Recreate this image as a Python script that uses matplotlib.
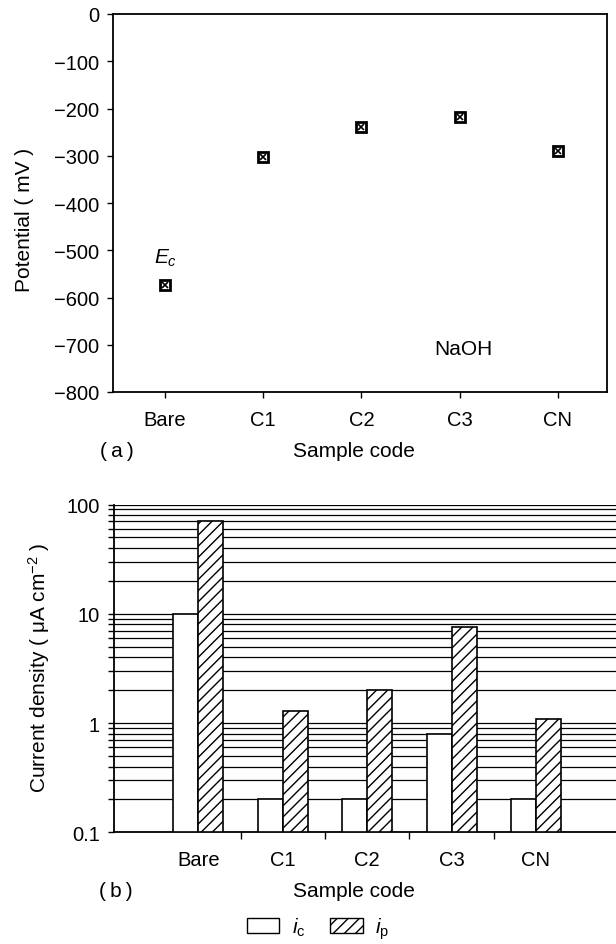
import matplotlib
matplotlib.use("Agg")
import matplotlib.pyplot as plt
from matplotlib.patches import Patch
from matplotlib.ticker import FixedLocator, LogLocator, NullFormatter, FuncFormatter
import numpy as np

plt.rcParams['font.family'] = ['Liberation Sans', 'DejaVu Sans']
plt.rcParams['mathtext.fontset'] = 'custom'
plt.rcParams['mathtext.rm'] = 'Liberation Sans'
plt.rcParams['mathtext.it'] = 'Liberation Sans:italic'
plt.rcParams['mathtext.bf'] = 'Liberation Sans:bold'
plt.rcParams['hatch.linewidth'] = 1.0

# ---- data ----
samples = ["Bare", "C1", "C2", "C3", "CN"]
potential_mV = [-573, -302, -240, -219, -291]
i_c = [10, 0.2, 0.2, 0.8, 0.2]
i_p = [70, 1.3, 2.0, 7.6, 1.1]
pot_ticks = [0, -100, -200, -300, -400, -500, -600, -700, -800]
cd_ticks = [0.1, 1, 10, 100]

W, H = 616, 945
fig = plt.figure(figsize=(W / 100, H / 100), dpi=100)

def fx(px):
    return px / W

def fy(py):
    return 1 - py / H

TICK_FS = 14.5
LABEL_FS = 15

# ---------------- (a) ----------------
ax1 = fig.add_axes([fx(113), fy(393), fx(607) - fx(113), fy(15) - fy(393)])
x1 = np.arange(len(samples))
ax1.plot(x1, potential_mV, linestyle='none', marker='s', markersize=6.5,
         markerfacecolor='white', markeredgecolor='black', markeredgewidth=2.0)
ax1.plot(x1, potential_mV, linestyle='none', marker='x', markersize=4,
         color='black', markeredgewidth=1.2)
ax1.set_xlim(-0.53, 4.5)
ax1.set_ylim(-800, 0)
ax1.set_xticks(x1)
ax1.set_xticklabels(samples, fontsize=TICK_FS)
ax1.set_yticks(pot_ticks)
ax1.set_yticklabels([f"{v:d}".replace('-', '\u2212') for v in pot_ticks], fontsize=TICK_FS)
ax1.tick_params(axis='both', direction='out', length=4, width=1.0, color='black')
ax1.tick_params(axis='x', pad=9)
ax1.tick_params(axis='y', pad=6)
for s in ax1.spines.values():
    s.set_linewidth(1.3)
ax1.text(0, -514, r"$E_c$", fontsize=LABEL_FS, ha='center', va='center')
ax1.text(3.04, -707, "NaOH", fontsize=LABEL_FS, ha='center', va='center')

fig.text(fx(24), fy(220), "Potential ( mV )", rotation=90, fontsize=LABEL_FS,
         ha='center', va='center')
fig.text(fx(117), fy(452), "(\u2009a\u2009)", fontsize=LABEL_FS, ha='center', va='center')
fig.text(fx(354), fy(452), "Sample code", fontsize=LABEL_FS, ha='center', va='center')

# ---------------- (b) ----------------
px_unit = 84.4
ax2 = fig.add_axes([fx(114), fy(833.3), 6 * px_unit / W, fy(505.5) - fy(833.3)])
x2 = np.arange(1, len(samples) + 1)
bw = 0.296
base = cd_ticks[0]
ax2.set_yscale('log')
ax2.set_ylim(0.1, 100)
ax2.set_xlim(0, 6)
ax2.bar(x2 - bw / 2, np.array(i_c) - base, width=bw, bottom=base, facecolor='white',
        edgecolor='black', linewidth=1.2, zorder=3)
ax2.bar(x2 + bw / 2, np.array(i_p) - base, width=bw, bottom=base, facecolor='white',
        edgecolor='black', hatch='///', linewidth=1.2, zorder=3)
ax2.set_axisbelow(True)
ax2.yaxis.set_major_locator(FixedLocator(cd_ticks))
ax2.yaxis.set_minor_locator(LogLocator(base=10, subs=np.arange(2, 10)))
ax2.yaxis.set_major_formatter(FuncFormatter(lambda v, p: f"{v:g}"))
ax2.yaxis.set_minor_formatter(NullFormatter())
ax2.grid(True, which='both', axis='y', color='black', linewidth=0.9)
ax2.set_xticks(x2)
ax2.set_xticklabels(samples, fontsize=TICK_FS)
ax2.set_xticks(np.arange(1.5, 5.0, 1.0), minor=True)
ax2.tick_params(axis='x', which='major', length=0, pad=13)
ax2.tick_params(axis='x', which='minor', length=5, width=1.0, direction='out')
ax2.tick_params(axis='y', which='both', direction='out', length=4, width=1.0, pad=6,
                labelsize=TICK_FS)
ax2.spines['right'].set_visible(False)
ax2.spines['top'].set_visible(False)
for s in ax2.spines.values():
    s.set_linewidth(1.3)

fig.text(fx(39), fy(668), "Current density ( \u03bcA cm$^{\u2212 2}$ )", rotation=90,
         fontsize=LABEL_FS, ha='center', va='center')
fig.text(fx(116), fy(892), "(\u2009b\u2009)", fontsize=LABEL_FS, ha='center', va='center')
fig.text(fx(354), fy(892), "Sample code", fontsize=LABEL_FS, ha='center', va='center')

handles = [Patch(facecolor='white', edgecolor='black', linewidth=1.0),
           Patch(facecolor='white', edgecolor='black', hatch='///', linewidth=1.0)]
fig.legend(handles, [r"$i_{\rm c}$", r"$i_{\rm p}$"], loc='center',
           bbox_to_anchor=(fx(318), fy(929)), ncol=2, frameon=False,
           fontsize=LABEL_FS, handlelength=1.55, handleheight=0.75,
           handletextpad=0.6, columnspacing=1.2)

fig.savefig("out.png", dpi=100)
